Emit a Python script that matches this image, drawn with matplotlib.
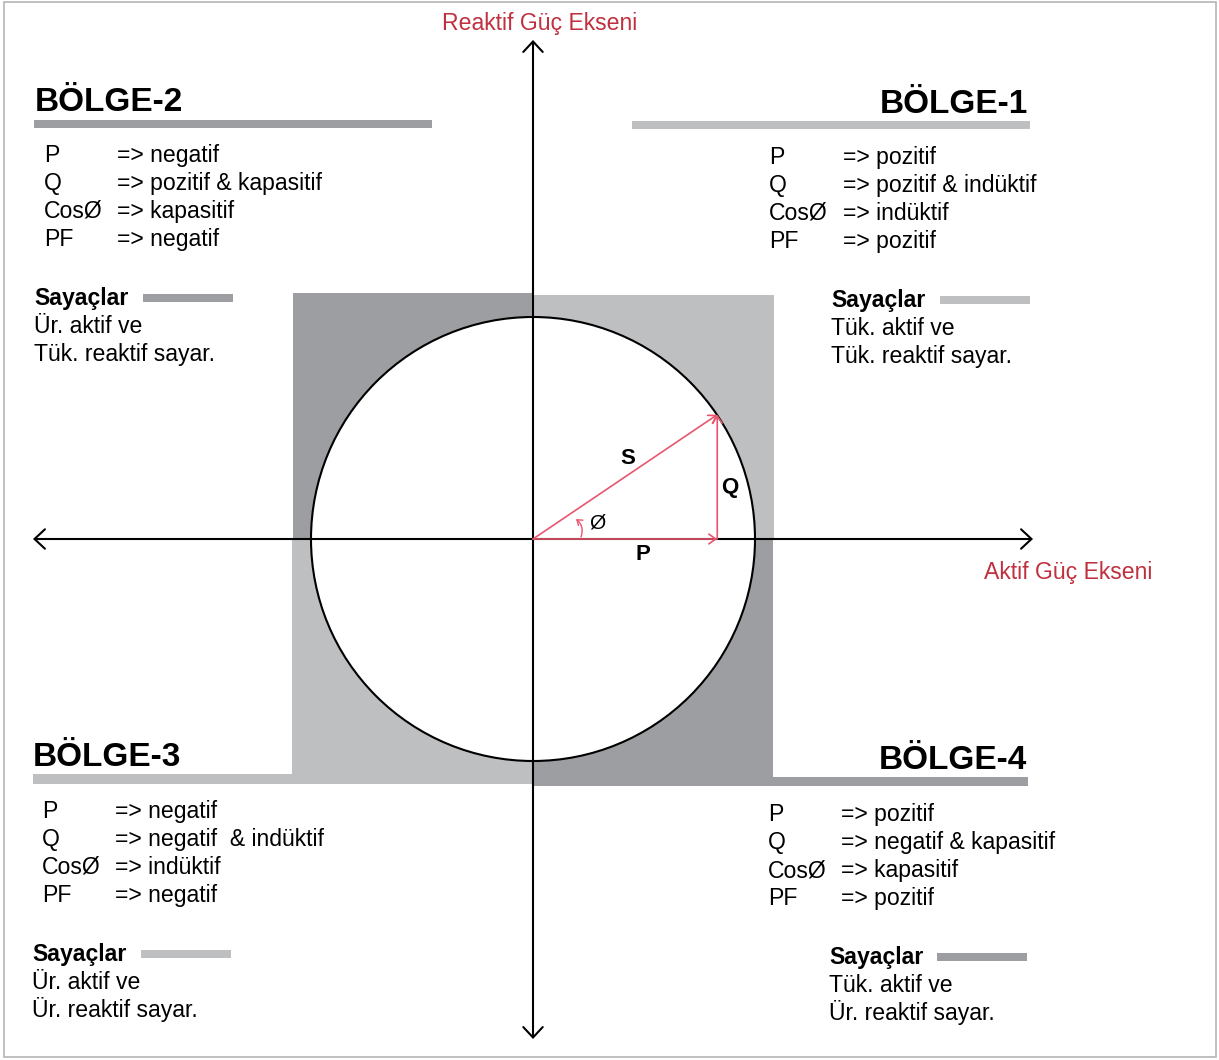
import matplotlib
matplotlib.use('Agg')
import matplotlib.pyplot as plt
from matplotlib.patches import Rectangle, Circle, FancyArrowPatch

plt.rcParams['font.family'] = ['Liberation Sans', 'DejaVu Sans']

# ---- content -------------------------------------------------------------
regions = ['BÖLGE-1', 'BÖLGE-2', 'BÖLGE-3', 'BÖLGE-4']
row_labels = ['P', 'Q', 'CosØ', 'PF']
p_sign = ['=> pozitif', '=> negatif', '=> negatif', '=> pozitif']
q_sign = ['=> pozitif & indüktif', '=> pozitif & kapasitif',
          '=> negatif  & indüktif', '=> negatif & kapasitif']
cos_sign = ['=> indüktif', '=> kapasitif', '=> indüktif', '=> kapasitif']
pf_sign = ['=> pozitif', '=> negatif', '=> negatif', '=> pozitif']
meter_line1 = ['Tük. aktif ve', 'Ür. aktif ve', 'Ür. aktif ve', 'Tük. aktif ve']
meter_line2 = ['Tük. reaktif sayar.', 'Tük. reaktif sayar.',
               'Ür. reaktif sayar.', 'Ür. reaktif sayar.']
axis_labels = ['Aktif Güç Ekseni', 'Reaktif Güç Ekseni']
# power vector, in units of |S| (S lies on the circle)
P_val, Q_val = 0.83, 0.56

# ---- styles --------------------------------------------------------------
DARK = '#9d9ea2'
LIGHT = '#bebfc1'
RED_TXT = '#c0303f'
RED_VEC = '#e8566e'
quad_color = [LIGHT, DARK, LIGHT, DARK]
FS = 16.6

W, H = 1219, 1060
O = (533, 539)   # origin in pixels
R = 222          # circle radius in pixels

fig = plt.figure(figsize=(W / 100, H / 100), dpi=100)
ax = fig.add_axes([0, 0, 1, 1])
ax.set_xlim(0, W)
ax.set_ylim(H, 0)
ax.axis('off')

# frame
ax.add_patch(Rectangle((4, 2), 1212, 1055, fill=False, ec='#b5b5b5', lw=1.2))

# quadrant squares (x0, x1, y0, y1 in px)
sq = [(533, 774, 295, 539), (293, 533, 293, 539),
      (292, 533, 539, 784), (533, 773, 539, 786)]
for (x0, x1, y0, y1), c in zip(sq, quad_color):
    ax.add_patch(Rectangle((x0, y0), x1 - x0, y1 - y0, fc=c, ec='none', zorder=1))

# header bars
hbars = [(632, 1030, 121, 129), (34, 432, 120, 128),
         (33, 292, 774, 784), (773, 1028, 777, 786)]
for (x0, x1, y0, y1), c in zip(hbars, quad_color):
    ax.add_patch(Rectangle((x0, y0), x1 - x0, y1 - y0, fc=c, ec='none', zorder=1))

# circle
ax.add_patch(Circle(O, R, fc='white', ec='black', lw=1.5, zorder=2))

# axes arrows
ax_style = dict(arrowstyle='->,head_length=0.75,head_width=0.7', mutation_scale=10,
                color='black', lw=1.5, zorder=4, shrinkA=0, shrinkB=0)
ax.add_patch(FancyArrowPatch(O, (1033, O[1]), **ax_style))
ax.add_patch(FancyArrowPatch(O, (33, O[1]), **ax_style))
ax.add_patch(FancyArrowPatch(O, (O[0], 40), **ax_style))
ax.add_patch(FancyArrowPatch(O, (O[0], 1039), **ax_style))

ax.text(1068, 579, axis_labels[0], color=RED_TXT, fontsize=FS, ha='center', va='baseline')
ax.text(540, 30, axis_labels[1], color=RED_TXT, fontsize=FS, ha='center', va='baseline')

# power triangle
tip = (O[0] + R * P_val, O[1] - R * Q_val)
foot = (tip[0], O[1])
v_style = dict(arrowstyle='->,head_length=0.5,head_width=0.35', mutation_scale=10,
               color=RED_VEC, lw=1.2, zorder=5, shrinkA=0, shrinkB=0)
ax.add_patch(FancyArrowPatch(O, tip, **v_style))
ax.add_patch(FancyArrowPatch(O, foot, **v_style))
ax.add_patch(FancyArrowPatch(foot, tip, **v_style))
ax.add_patch(FancyArrowPatch((581, 537), (576, 519), connectionstyle='arc3,rad=0.35',
                             arrowstyle='->,head_length=0.35,head_width=0.25',
                             mutation_scale=10, color=RED_VEC, lw=1.0, zorder=5,
                             shrinkA=0, shrinkB=0))
ax.text(628, 459, 'S', fontsize=16, fontweight='bold', ha='center', va='center', zorder=6)
ax.text(730, 487, 'Q', fontsize=16, fontweight='bold', ha='center', va='center', zorder=6)
ax.text(643, 555, 'P', fontsize=16, fontweight='bold', ha='center', va='center', zorder=6)
ax.text(597, 523, 'Ø', fontsize=15, ha='center', va='center', zorder=6)

# region text blocks
# header (x, baseline, ha), label col x, value col x, first row baseline,
# meter x, meter baseline, meter bar (x0, x1)
layout = [
    ((1028, 113, 'right'), 769, 843, 164, 831, 307, (940, 1030)),
    ((35, 111, 'left'), 44, 117, 162, 34, 305, (143, 233)),
    ((33, 766, 'left'), 42, 115, 818, 32, 961, (141, 231)),
    ((1027, 769, 'right'), 768, 841, 821, 829, 964, (937, 1027)),
]
ROW = 28
for i, name in enumerate(regions):
    (hx, hy, ha), lx, vx, ry, mx, my, (bx0, bx1) = layout[i]
    ax.text(hx, hy, name, fontsize=24, fontweight='bold', ha=ha, va='baseline', zorder=6)
    values = [p_sign[i], q_sign[i], cos_sign[i], pf_sign[i]]
    for j, (lab, val) in enumerate(zip(row_labels, values)):
        ax.text(lx, ry + j * ROW, lab, fontsize=FS, va='baseline')
        ax.text(vx, ry + j * ROW, val, fontsize=FS, va='baseline')
    ax.text(mx, my, 'Sayaçlar', fontsize=FS, fontweight='bold', va='baseline')
    ax.add_patch(Rectangle((bx0, my - 11), bx1 - bx0, 8, fc=quad_color[i], ec='none'))
    ax.text(mx, my + ROW, meter_line1[i], fontsize=FS, va='baseline')
    ax.text(mx, my + 2 * ROW, meter_line2[i], fontsize=FS, va='baseline')

fig.savefig('out.png', dpi=100)
